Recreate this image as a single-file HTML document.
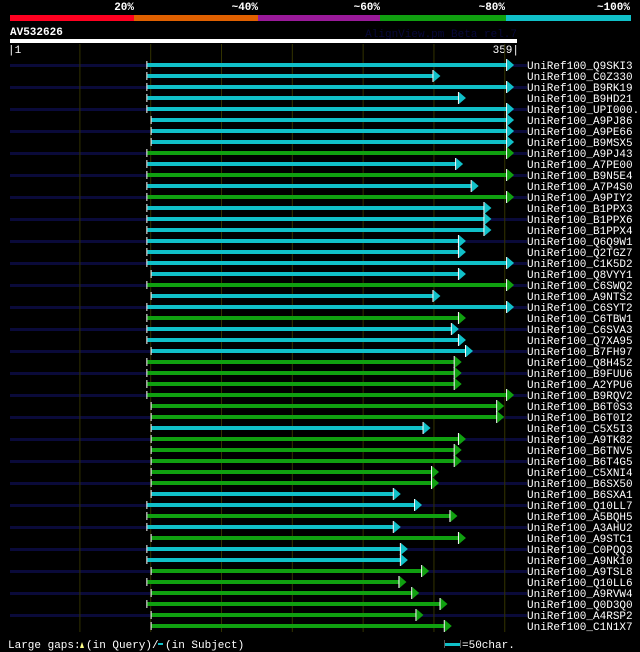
<!DOCTYPE html>
<html><head><meta charset="utf-8"><style>
body{margin:0;background:#000;width:640px;height:652px;overflow:hidden}
svg{display:block}
text{font-family:"Liberation Mono",monospace;font-size:11px;fill:#fff}
</style></head><body>
<svg id="c" width="640" height="652">
<g>
<rect x="10" y="15" width="124" height="6" fill="#ff0020"/>
<rect x="134" y="15" width="124" height="6" fill="#e06000"/>
<rect x="258" y="15" width="122" height="6" fill="#9a1a9a"/>
<rect x="380" y="15" width="126" height="6" fill="#10a010"/>
<rect x="506" y="15" width="125" height="6" fill="#10c0c8"/>
<text x="134" y="10" text-anchor="end" font-weight="bold">20%</text>
<text x="258" y="10" text-anchor="end" font-weight="bold">~40%</text>
<text x="380" y="10" text-anchor="end" font-weight="bold">~60%</text>
<text x="505" y="10" text-anchor="end" font-weight="bold">~80%</text>
<text x="630" y="10" text-anchor="end" font-weight="bold">~100%</text>
</g>
<text x="10" y="35" font-weight="bold">AV532626</text>
<text x="517" y="37" text-anchor="end" style="fill:#08083a">AlignView.pm Beta rel.7</text>
<rect x="10" y="39" width="507" height="4" fill="#fff"/>
<text x="8" y="53">|1</text>
<text x="519" y="53" text-anchor="end">359|</text>
<g id="stripes"></g><g id="grid"></g><g id="rows"></g>
<g>
<text x="8" y="648">Large gaps:</text>
<polygon points="80,648 82,642 84,648" fill="#ff8"/>
<text x="86" y="648">(in Query)/</text>
<rect x="158" y="643" width="5" height="2" fill="#10c0c8"/>
<text x="165" y="648">(in Subject)</text>
<rect x="445" y="643" width="15" height="3" fill="#10c0c8"/>
<rect x="444" y="640" width="1" height="8" fill="#555"/>
<rect x="460" y="640" width="1" height="8" fill="#555"/>
<text x="462" y="648">=50char.</text>
</g>
</svg>
<script>
const names=["Q9SKI3","C0Z330","B9RK19","B9HD21","UPI000..","A9PJ86","A9PE66","B9MSX5","A9PJ43","A7PE00","B9N5E4","A7P4S0","A9PIY2","B1PPX3","B1PPX6","B1PPX4","Q6Q9W1","Q2TGZ7","C1K5D2","Q8VYY1","C6SWQ2","A9NTS2","C6SYT2","C6TBW1","C6SVA3","Q7XA95","B7FH97","Q8H452","B9FUU6","A2YPU6","B9RQV2","B6T0S3","B6T0I2","C5X5I3","A9TK82","B6TNV5","B6T4G5","C5XNI4","B6SX50","B6SXA1","Q10LL7","A5BQH5","A3AHU2","A9STC1","C0PQQ3","A9NK10","A9TSL8","Q10LL6","A9RVW4","Q0D3Q0","A4RSP2","C1N1X7"];
const starts=[98,98,98,98,98,101,101,101,98,98,98,98,98,98,98,98,98,98,98,101,98,101,98,98,98,98,101,98,98,98,98,101,101,101,101,101,101,101,101,101,98,98,98,101,98,98,101,98,101,98,101,101];
const ends=[352,300,352,318,352,352,352,352,352,316,352,327,352,336,336,336,318,318,352,318,352,300,352,318,313,318,323,315,315,315,352,345,345,293,318,315,315,299,299,272,287,312,272,318,277,277,292,276,285,305,288,308];
const ident=[100,100,100,100,100,100,100,100,80,100,80,100,80,100,100,100,100,100,100,100,80,100,100,80,100,100,100,80,80,80,80,80,80,100,80,80,80,80,80,100,100,80,100,80,100,100,80,80,80,80,80,80];
const gridTicks=[50,100,150,200,250,300,350];
const X=v=>10+(v-1)*507/358, Y=i=>65+i*11;
const NS="http://www.w3.org/2000/svg";
function mk(t,a,p){const e=document.createElementNS(NS,t);for(const k in a)e.setAttribute(k,a[k]);p.appendChild(e);return e;}
const grid=document.getElementById('grid'),rows=document.getElementById('rows'),stripes=document.getElementById('stripes');
gridTicks.forEach(t=>{const l=mk('rect',{x:X(t),y:44,width:1,height:588,fill:'#333300'},grid);

});
names.forEach((n,i)=>{const y=Y(i);
if(i%2===0){const s=mk('rect',{x:10,y:y-1,width:517,height:3,fill:'#0a0a3a'},stripes);

}
const g=mk('g',{},rows);


const col=ident[i]>=100?'#10c0c8':'#10a010';const xs=X(starts[i]),xe=X(ends[i]);
mk('rect',{x:xs,y:y-2,width:xe-xs,height:4,fill:col},g);
mk('rect',{x:xs-1,y:y-4,width:1,height:8,fill:'#fff'},g);
mk('polygon',{points:`${xe},${y-6} ${xe+7},${y} ${xe},${y+6}`,fill:col},g);
mk('rect',{x:xe-1,y:y-6,width:1,height:12,fill:'#fff'},g);
const t=mk('text',{x:527,y:y+4},g);t.textContent='UniRef100_'+n;

});
</script>
</body></html>
